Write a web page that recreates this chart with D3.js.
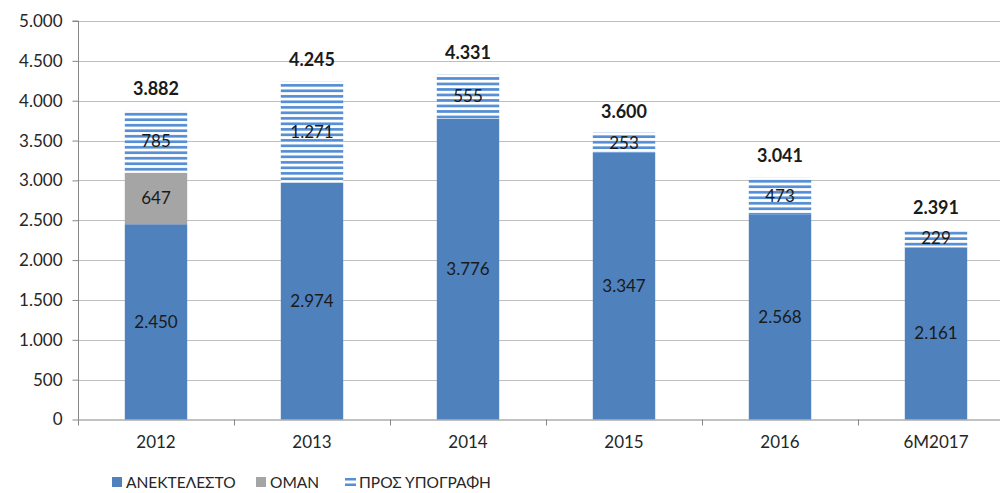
<!DOCTYPE html>
<html>
<head>
<meta charset="utf-8">
<script src="https://cdn.jsdelivr.net/npm/d3@7"></script>
<style>
  body { margin: 0; background: #fff; }
  text { font-family: Lato, "Open Sans", sans-serif; fill: #1a1a1a; }
  .grid line { stroke: #bfbfbf; stroke-width: 1; }
  .axis path, .axis line { stroke: #868686; }
</style>
</head>
<body>
<div id="chart"></div>
<script>
// chart data
const years = ["2012", "2013", "2014", "2015", "2016", "6M2017"];
const anektelesto = [2450, 2974, 3776, 3347, 2568, 2161];
const oman = [647, 0, 0, 0, 0, 0];
const prosYpografi = [785, 1271, 555, 253, 473, 229];
const totals = [3882, 4245, 4331, 3600, 3041, 2391];
const yTicks = [0, 500, 1000, 1500, 2000, 2500, 3000, 3500, 4000, 4500, 5000];
const seriesNames = ["ΑΝΕΚΤΕΛΕΣΤΟ", "ΟΜΑΝ", "ΠΡΟΣ ΥΠΟΓΡΑΦΗ"];

const w = 1000, h = 493;
const plotLeft = 78, plotRight = 1014, plotTop = 21, plotBottom = 419.5;

const fmt = v => d3.format(",")(v).replace(/,/g, ".");

let svg = d3.select("#chart").append("svg")
    .attr("width", w)
    .attr("height", h);

// scales
let xScale = d3.scaleBand().domain(years).range([plotLeft, plotRight]).paddingInner(0.6).paddingOuter(0.3);
let xBand = d3.scaleBand().domain(years).range([plotLeft, plotRight]);
let yScale = d3.scaleLinear().domain([0, 5000]).range([plotBottom, plotTop]);

// stacked layout
const rows = years.map((y, i) => ({ year: y, a: anektelesto[i], o: oman[i], p: prosYpografi[i] }));
const stack = d3.stack().keys(["a", "o", "p"])(rows);

// one stripe pattern per bar so every stripe block starts with a white line on top
let defs = svg.append("defs");
stack[2].forEach((d, i) => {
    let p = defs.append("pattern")
        .attr("id", "stripes" + i)
        .attr("patternUnits", "userSpaceOnUse")
        .attr("width", 8)
        .attr("height", 5.5)
        .attr("patternTransform", `translate(0,${yScale(d[1])})`);
    p.append("rect").attr("width", 8).attr("height", 5.5).attr("fill", "#fff");
    p.append("rect").attr("y", 2.8).attr("width", 8).attr("height", 2.7).attr("fill", "#558ed5");
});

// gridlines
svg.append("g").attr("class", "grid")
    .selectAll("line").data(yTicks.slice(1)).join("line")
    .attr("x1", plotLeft).attr("x2", w)
    .attr("y1", d => Math.round(yScale(d)) + 0.5)
    .attr("y2", d => Math.round(yScale(d)) + 0.5);

// y axis
let yAxis = svg.append("g").attr("class", "axis")
    .attr("transform", `translate(${plotLeft + 0.5},0)`)
    .call(d3.axisLeft(yScale).tickValues(yTicks).tickFormat(fmt).tickSize(6).tickPadding(10));
yAxis.select(".domain").attr("d", `M-6,${plotTop}H0V${plotBottom}`);
yAxis.selectAll("text").style("font-size", "17px").style("fill", "#262626");

const fills = { a: () => "#4f81bd", o: () => "#a5a5a5", p: (d, i) => `url(#stripes${i})` };

stack.forEach(layer => {
    let g = svg.append("g");
    g.selectAll("rect").data(layer).join("rect")
        .attr("x", d => xScale(d.data.year))
        .attr("width", xScale.bandwidth())
        .attr("y", d => yScale(d[1]))
        .attr("height", d => yScale(d[0]) - yScale(d[1]))
        .attr("fill", fills[layer.key]);
    g.selectAll("text").data(layer.filter(d => d[1] - d[0] > 0)).join("text")
        .attr("x", d => xScale(d.data.year) + xScale.bandwidth() / 2)
        .attr("y", d => yScale((d[0] + d[1]) / 2))
        .attr("dy", "0.35em")
        .attr("text-anchor", "middle")
        .style("font-size", "17px")
        .text(d => fmt(d[1] - d[0]));
});

// totals above each bar
svg.append("g").selectAll("text").data(years).join("text")
    .attr("x", d => xScale(d) + xScale.bandwidth() / 2)
    .attr("y", (d, i) => yScale(d3.sum([anektelesto[i], oman[i], prosYpografi[i]])) - 15)
    .attr("text-anchor", "middle")
    .style("font-size", "18px")
    .style("font-weight", "bold")
    .text((d, i) => fmt(totals[i]));

// x axis
let xAxis = svg.append("g").attr("class", "axis")
    .attr("transform", `translate(0,${plotBottom})`);
xAxis.append("line").attr("x1", plotLeft).attr("x2", w).attr("y1", 0.5).attr("y2", 0.5);
xAxis.selectAll(".tk").data(years).join("line").attr("class", "tk")
    .attr("x1", d => Math.round(xBand(d)) + 0.5).attr("x2", d => Math.round(xBand(d)) + 0.5)
    .attr("y1", 0).attr("y2", 6);
xAxis.selectAll("text").data(years).join("text")
    .attr("x", d => xBand(d) + xBand.bandwidth() / 2)
    .attr("y", 28)
    .attr("text-anchor", "middle")
    .style("font-size", "17px")
    .style("fill", "#262626")
    .text(d => d);

// legend
const legendX = [112, 256, 345];
let legend = svg.append("g").attr("transform", "translate(0,483)");
seriesNames.forEach((name, i) => {
    let item = legend.append("g").attr("transform", `translate(${legendX[i]},0)`);
    if (i < 2) {
        item.append("rect").attr("x", 0).attr("y", -6).attr("width", 10).attr("height", 10)
            .attr("fill", i === 0 ? "#4f81bd" : "#a5a5a5");
    } else {
        item.append("rect").attr("x", 0).attr("y", -5).attr("width", 11).attr("height", 2.5).attr("fill", "#558ed5");
        item.append("rect").attr("x", 0).attr("y", 0.5).attr("width", 11).attr("height", 2.5).attr("fill", "#558ed5");
    }
    item.append("text").attr("x", 14).attr("y", 0).attr("dy", "0.35em")
        .style("font-size", "15.5px").style("fill", "#262626").text(name);
});
</script>
</body>
</html>
